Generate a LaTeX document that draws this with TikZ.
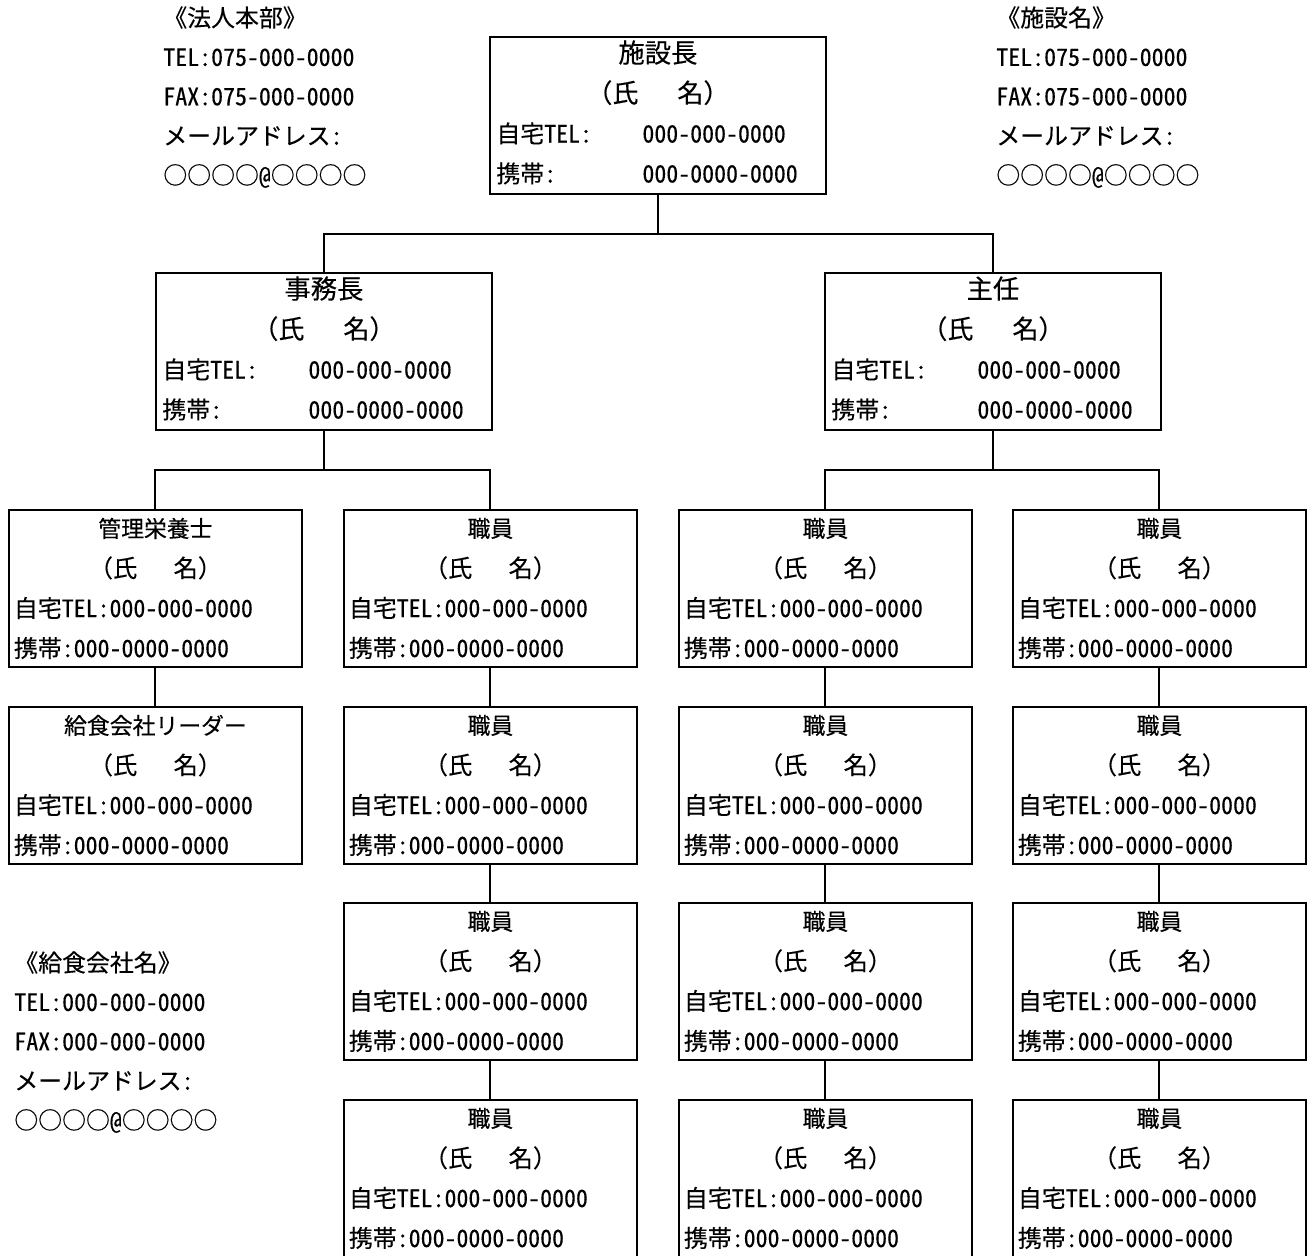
\documentclass[tikz,border=0pt]{standalone}
\usepackage{fontspec}
\setmainfont{Noto Sans CJK JP}[RawFeature=+hwid,FakeBold=0.3]
\newfontfamily\widefont{Noto Sans CJK JP}[FakeBold=0.3]
\usetikzlibrary{positioning,calc}
\newcommand\bodyfont{\fontsize{13.6}{22.76}\selectfont}
\newcommand\memofont{\fontsize{13.6}{22.4}\selectfont}
\newcommand\chief[1]{\makebox[\linewidth]{\widefont\fontsize{15}{22.76}\selectfont #1}\\\makebox[\linewidth]{\widefont\fontsize{14.8}{22.76}\selectfont （氏　\hspace{.5em}名）}\\\makebox[2.92cm][l]{自宅TEL:}000-000-0000\\\makebox[2.92cm][l]{携帯:}000-0000-0000\rule[-.16cm]{0pt}{0pt}}
\newcommand\staff[1]{\makebox[\linewidth]{\widefont\fontsize{13}{22.76}\selectfont #1}\\\makebox[\linewidth]{\widefont\fontsize{13.8}{22.76}\selectfont （氏　\hspace{.5em}名）}\\自宅TEL:000-000-0000\\携帯:000-0000-0000}
\tikzset{unit/.style={draw,line width=1.1pt,anchor=north west,minimum width=5.86cm,minimum height=3.14cm,text width=5.66cm,inner xsep=.1cm,inner ysep=0pt,align=left,font=\bodyfont},head/.style={unit,minimum width=6.72cm,text width=6.46cm,inner xsep=.13cm},memo/.style={anchor=north west,align=left,inner sep=0pt,font=\memofont},link/.style={line width=1.1pt}}
\begin{document}
\begin{tikzpicture}[x=.02cm,y=-.02cm]
\useasboundingbox (0,0) rectangle (1309,1255);
\node[memo] (hq) at (163,6) {《法人本部》\\TEL:075-000-0000\\FAX:075-000-0000\\メールアドレス:\\○○○○@○○○○};
\node[memo] (site) at (996,6) {《施設名》\\TEL:075-000-0000\\FAX:075-000-0000\\メールアドレス:\\○○○○@○○○○};
\node[memo] (caterer) at (14,951) {《給食会社名》\\TEL:000-000-0000\\FAX:000-000-0000\\メールアドレス:\\○○○○@○○○○};
\node[head] (boss) at (489,36) {\chief{施設長}};
\node[head] (office) at (155,272) {\chief{事務長}};
\node[head] (lead) at (824,272) {\chief{主任}};
\node[unit] (diet) at (8,509) {\staff{管理栄養士}};
\node[unit] (meal) at (8,706) {\staff{給食会社リーダー}};
\foreach \c/\x in {b/343,c/678,d/1012}
  \foreach \r/\y in {1/509,2/706,3/902,4/1099}
    \node[unit] (\c\r) at (\x,\y) {\staff{職員}};
\draw[link] (boss.south) -- ++(0,39) coordinate (j0);
\draw[link] (j0) -| (office.north);\draw[link] (j0) -| (lead.north);
\draw[link] (office.south) -- ++(0,39) coordinate (j1);
\draw[link] (j1) -| (diet.north);\draw[link] (j1) -| (b1.north);
\draw[link] (lead.south) -- ++(0,39) coordinate (j2);
\draw[link] (j2) -| (c1.north);\draw[link] (j2) -| (d1.north);
\draw[link] (diet) -- (meal);
\foreach \c in {b,c,d}
  {\draw[link] (\c1) -- (\c2);\draw[link] (\c2) -- (\c3);\draw[link] (\c3) -- (\c4);}
\end{tikzpicture}
\end{document}
